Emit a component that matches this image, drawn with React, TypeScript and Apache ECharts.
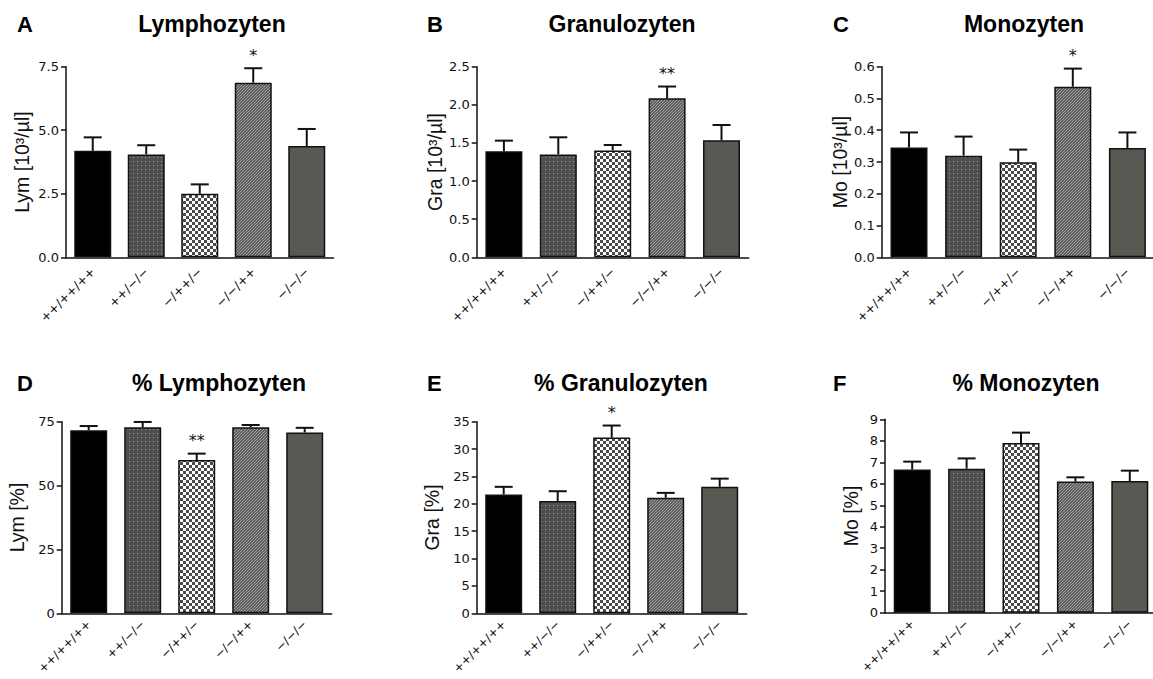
import React, { useEffect, useRef } from 'react';
import * as echarts from 'echarts';

// ---------- data ----------
const categories = ['++/++/++', '++/\u2212/\u2212', '\u2212/++/\u2212', '\u2212/\u2212/++', '\u2212/\u2212/\u2212'];

const lymAbs = [4.19, 4.05, 2.5, 6.87, 4.38];
const lymAbsErr = [4.72, 4.41, 2.87, 7.44, 5.05];
const lymAbsSig = ['', '', '', '*', ''];

const graAbs = [1.39, 1.35, 1.4, 2.085, 1.535];
const graAbsErr = [1.53, 1.574, 1.473, 2.24, 1.735];
const graAbsSig = ['', '', '', '**', ''];

const monoAbs = [0.346, 0.32, 0.299, 0.537, 0.344];
const monoAbsErr = [0.393, 0.38, 0.339, 0.594, 0.393];
const monoAbsSig = ['', '', '', '*', ''];

const lymPct = [71.7, 72.8, 60.0, 72.8, 70.8];
const lymPctErr = [73.3, 74.9, 62.5, 73.7, 72.6];
const lymPctSig = ['', '', '**', '', ''];

const graPct = [21.7, 20.5, 32.1, 21.1, 23.1];
const graPctErr = [23.1, 22.3, 34.3, 22.0, 24.6];
const graPctSig = ['', '', '*', '', ''];

const monoPct = [6.66, 6.7, 7.9, 6.1, 6.13];
const monoPctErr = [7.03, 7.18, 8.38, 6.3, 6.61];
const monoPctSig = ['', '', '', '', ''];

const panelLetters = ['A', 'B', 'C', 'D', 'E', 'F'];
const panelTitles = ['Lymphozyten', 'Granulozyten', 'Monozyten', '% Lymphozyten', '% Granulozyten', '% Monozyten'];
const yNames = ['Lym [10\u00b3/\u00b5l]', 'Gra [10\u00b3/\u00b5l]', 'Mo [10\u00b3/\u00b5l]', 'Lym [%]', 'Gra [%]', 'Mo [%]'];
const yMax = [7.5, 2.5, 0.6, 75, 35, 9];
const yStep = [2.5, 0.5, 0.1, 25, 5, 1];
const yDecimals = [1, 1, 1, 0, 0, 0];

const values = [lymAbs, graAbs, monoAbs, lymPct, graPct, monoPct];
const errors = [lymAbsErr, graAbsErr, monoAbsErr, lymPctErr, graPctErr, monoPctErr];
const sigs = [lymAbsSig, graAbsSig, monoAbsSig, lymPctSig, graPctSig, monoPctSig];

// ---------- layout ----------
const grids = [
  { left: 66, top: 66.7, width: 267.5, height: 190.6 },
  { left: 476.7, top: 66.7, width: 272, height: 190.6 },
  { left: 881.7, top: 66.7, width: 273, height: 190.6 },
  { left: 61.7, top: 421.7, width: 270, height: 191.6 },
  { left: 476.7, top: 421.7, width: 270, height: 191.6 },
  { left: 885, top: 419.3, width: 272, height: 193.4 },
];
const nameGaps = [34, 32, 30, 35, 35, 24];
const xLabelMargin = [12, 12, 12, 9, 9, 9];
const xLabelSize = [12.5, 12.5, 12.5, 12, 12, 12];
const letterPos = [
  [17, 24], [427, 24], [833, 24], [17, 383], [427, 383], [833, 383],
];
const titlePos = [
  [212, 24], [622, 24], [1024, 24], [219, 383], [621, 383], [1026, 383],
];

const AXIS = '#111';
const SANS = 'Arial, "Liberation Sans", sans-serif';
const TICKFONT = '"DejaVu Sans", sans-serif';

function makeCanvas(w: number, h: number, draw: (c: CanvasRenderingContext2D) => void) {
  const cv = document.createElement('canvas');
  cv.width = w;
  cv.height = h;
  const ctx = cv.getContext('2d')!;
  draw(ctx);
  return cv;
}

export default function App() {
  const ref = useRef<HTMLDivElement>(null);

  useEffect(() => {
    if (!ref.current) return;
    const chart = echarts.init(ref.current, undefined, { renderer: 'svg' });

    const dots = makeCanvas(4, 4, (c) => {
      c.fillStyle = '#4f4f4f';
      c.fillRect(0, 0, 4, 4);
      c.fillStyle = '#9c9c9c';
      c.fillRect(1, 1, 1, 1);
    });
    const checker = makeCanvas(6, 6, (c) => {
      c.fillStyle = '#ffffff';
      c.fillRect(0, 0, 6, 6);
      c.fillStyle = '#4a4a4a';
      c.fillRect(0, 0, 3, 3);
      c.fillRect(3, 3, 3, 3);
    });
    const diag = makeCanvas(3, 3, (c) => {
      c.fillStyle = '#5e5e5e';
      c.fillRect(0, 0, 3, 3);
      c.fillStyle = '#a2a2a2';
      c.fillRect(2, 0, 1, 1);
      c.fillRect(1, 1, 1, 1);
      c.fillRect(0, 2, 1, 1);
    });
    const fills: any[] = [
      '#000000',
      { image: dots, repeat: 'repeat' },
      { image: checker, repeat: 'repeat' },
      { image: diag, repeat: 'repeat' },
      '#585953',
    ];

    const xAxis: any[] = [];
    const yAxis: any[] = [];
    const series: any[] = [];
    const graphic: any[] = [];

    for (let p = 0; p < 6; p++) {
      xAxis.push({
        type: 'category',
        gridIndex: p,
        data: categories,
        axisLine: { lineStyle: { color: AXIS, width: 1.5 } },
        axisTick: { alignWithLabel: true, length: 6, lineStyle: { color: AXIS, width: 1.5 } },
        axisLabel: {
          interval: 0,
          rotate: 45,
          margin: xLabelMargin[p],
          fontSize: xLabelSize[p],
          fontFamily: TICKFONT,
          color: AXIS,
        },
      });
      const dec = yDecimals[p];
      yAxis.push({
        type: 'value',
        gridIndex: p,
        min: 0,
        max: yMax[p],
        interval: yStep[p],
        splitLine: { show: false },
        axisLine: { show: true, lineStyle: { color: AXIS, width: 1.5 } },
        axisTick: { show: true, length: 5, lineStyle: { color: AXIS, width: 1.5 } },
        axisLabel: {
          margin: 7,
          fontSize: 13,
          fontFamily: TICKFONT,
          color: AXIS,
          formatter: (v: number) => v.toFixed(dec),
        },
        name: yNames[p],
        nameLocation: 'middle',
        nameGap: nameGaps[p],
        nameTextStyle: { fontSize: 19.5, fontFamily: SANS, color: AXIS },
      });
      const vals = values[p];
      const errs = errors[p];
      const sig = sigs[p];
      series.push({
        type: 'bar',
        xAxisIndex: p,
        yAxisIndex: p,
        barWidth: 37,
        data: vals.map((v, i) => ({ value: v, itemStyle: { color: fills[i] } })),
        itemStyle: { borderColor: '#111', borderWidth: 1.5 },
        z: 2,
      });
      series.push({
        type: 'custom',
        xAxisIndex: p,
        yAxisIndex: p,
        z: 3,
        clip: false,
        data: vals.map((v, i) => [i, v, errs[i]]),
        encode: { x: 0, y: [1, 2] },
        renderItem: (params: any, api: any) => {
          const x = api.value(0);
          const top = api.value(1);
          const hi = api.value(2);
          const p0 = api.coord([x, top]);
          const p1 = api.coord([x, hi]);
          const children: any[] = [
            {
              type: 'line',
              shape: { x1: p0[0], y1: p0[1], x2: p1[0], y2: p1[1] },
              style: { stroke: '#111', lineWidth: 2 },
            },
            {
              type: 'line',
              shape: { x1: p1[0] - 9, y1: p1[1], x2: p1[0] + 9, y2: p1[1] },
              style: { stroke: '#111', lineWidth: 2 },
            },
          ];
          const s = sig[params.dataIndex];
          if (s) {
            children.push({
              type: 'text',
              style: {
                text: s,
                x: p1[0],
                y: p1[1] - 13,
                align: 'center',
                verticalAlign: 'middle',
                fontSize: 16,
                fontFamily: TICKFONT,
                fill: '#111',
              },
            });
          }
          return { type: 'group', children };
        },
      });
      graphic.push({
        type: 'text',
        x: letterPos[p][0],
        y: letterPos[p][1],
        style: {
          text: panelLetters[p],
          x: 0,
          y: 0,
          align: 'left',
          verticalAlign: 'middle',
          textAlign: 'left',
          textVerticalAlign: 'middle',
          fontSize: 22,
          fontWeight: 'bold',
          fontFamily: SANS,
          fill: '#000',
        },
      });
      graphic.push({
        type: 'text',
        x: titlePos[p][0],
        y: titlePos[p][1],
        style: {
          text: panelTitles[p],
          x: 0,
          y: 0,
          align: 'center',
          verticalAlign: 'middle',
          textAlign: 'center',
          textVerticalAlign: 'middle',
          fontSize: 23,
          fontWeight: 'bold',
          fontFamily: SANS,
          fill: '#000',
        },
      });
    }

    chart.setOption({
      animation: false,
      backgroundColor: '#ffffff',
      grid: grids.map((g) => ({ ...g, containLabel: false, outerBoundsMode: 'none' })),
      xAxis,
      yAxis,
      series,
      graphic,
    });

    return () => {
      chart.dispose();
    };
  }, []);

  return (
    <div
      ref={ref}
      style={{ position: 'absolute', left: 0, top: 0, width: 1153, height: 679, background: '#fff' }}
    />
  );
}
